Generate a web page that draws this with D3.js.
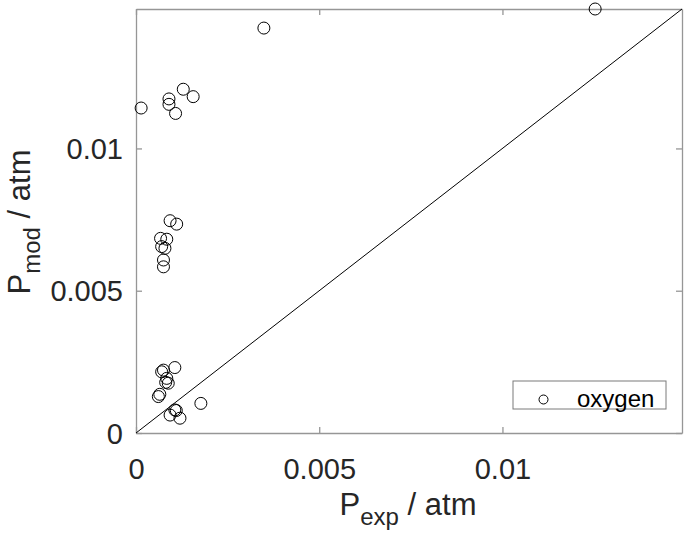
<!DOCTYPE html>
<html>
<head>
<meta charset="utf-8">
<script src="https://cdn.jsdelivr.net/npm/d3@7"></script>
<style>
  body { margin: 0; background: #fff; }
  text { font-family: "Liberation Sans", Arial, sans-serif; fill: #262626; }
</style>
</head>
<body>
<div id="chart"></div>
<script>
// measured vs modelled oxygen partial pressure (atm)
let pExp = [0.01253, 0.00349, 0.00014, 0.00090, 0.00090, 0.00108, 0.00129, 0.00156,
            0.00093, 0.00111, 0.00067, 0.00084, 0.00070, 0.00079, 0.00075, 0.00075,
            0.00106, 0.00075, 0.00070, 0.00084, 0.00088, 0.00081, 0.00065, 0.00061,
            0.00177, 0.00106, 0.00093, 0.00120, 0.00110];
let pMod = [0.01490, 0.01423, 0.01142, 0.01174, 0.01155, 0.01123, 0.01208, 0.01182,
            0.00746, 0.00734, 0.00684, 0.00681, 0.00655, 0.00649, 0.00608, 0.00584,
            0.00230, 0.00221, 0.00215, 0.00192, 0.00175, 0.00178, 0.00136, 0.00128,
            0.00104, 0.00081, 0.00063, 0.00052, 0.00079];
let tickVals = [0, 0.005, 0.01];
let tickLabels = ["0", "0.005", "0.01"];
let legendLabel = "oxygen";

let axMax = 0.0149;

let svg = d3.select("#chart")
    .append("svg")
    .attr("width", 686)
    .attr("height", 538);

let pLeft = 136, pRight = 682, pTop = 9, pBottom = 433;

let x = d3.scaleLinear().domain([0, axMax]).range([pLeft, pRight]);
let y = d3.scaleLinear().domain([0, axMax]).range([pBottom, pTop]);

let axisColor = "#969696";
let fmt = d => tickLabels[tickVals.indexOf(d)];

// bottom axis
let gx = svg.append("g")
    .attr("transform", "translate(0," + pBottom + ")")
    .call(d3.axisBottom(x).tickValues(tickVals).tickFormat(fmt).tickSizeInner(-6).tickSizeOuter(0));
gx.selectAll("text").style("font-size", "29px").attr("y", 46).attr("dy", 0);

// left axis
let gy = svg.append("g")
    .attr("transform", "translate(" + pLeft + ",0)")
    .call(d3.axisLeft(y).tickValues(tickVals).tickFormat(fmt).tickSizeInner(-6).tickSizeOuter(0).tickPadding(13));
gy.selectAll("text").style("font-size", "29px").attr("dy", "0.35em");

// top and right axes, no labels
svg.append("g")
    .attr("transform", "translate(0," + pTop + ")")
    .call(d3.axisTop(x).tickValues(tickVals).tickFormat("").tickSizeInner(-6).tickSizeOuter(0));
svg.append("g")
    .attr("transform", "translate(" + pRight + ",0)")
    .call(d3.axisRight(y).tickValues(tickVals).tickFormat("").tickSizeInner(-6).tickSizeOuter(0));

svg.selectAll(".domain").attr("stroke", axisColor).attr("stroke-width", 1.3);
svg.selectAll(".tick line").attr("stroke", axisColor).attr("stroke-width", 1.3);

// parity line
svg.append("line")
    .attr("x1", x(0)).attr("y1", y(0))
    .attr("x2", x(axMax)).attr("y2", y(axMax))
    .attr("stroke", "black")
    .attr("stroke-width", 1);

// points
svg.append("g")
    .selectAll("circle")
    .data(pExp.map((d, i) => [d, pMod[i]]))
    .join("circle")
    .attr("cx", d => x(d[0]))
    .attr("cy", d => y(d[1]))
    .attr("r", 6)
    .attr("fill", "none")
    .attr("stroke", "black")
    .attr("stroke-width", 1);

// axis labels
let xl = svg.append("text")
    .attr("x", 408)
    .attr("y", 515)
    .attr("text-anchor", "middle")
    .style("font-size", "31px");
xl.append("tspan").text("P");
xl.append("tspan").attr("dy", 10).style("font-size", "24px").text("exp");
xl.append("tspan").attr("dy", -10).text(" / atm");

let yl = svg.append("text")
    .attr("transform", "translate(30,222) rotate(-90)")
    .attr("text-anchor", "middle")
    .style("font-size", "31px");
yl.append("tspan").text("P");
yl.append("tspan").attr("dy", 10).style("font-size", "24px").text("mod");
yl.append("tspan").attr("dy", -10).text(" / atm");

// legend
let lg = svg.append("g");
lg.append("rect")
    .attr("x", 513).attr("y", 381)
    .attr("width", 153).attr("height", 28)
    .attr("fill", "white")
    .attr("stroke", "#7a7a7a")
    .attr("stroke-width", 1);
lg.append("circle")
    .attr("cx", 543.5).attr("cy", 399.5)
    .attr("r", 4.5)
    .attr("fill", "none")
    .attr("stroke", "black");
lg.append("text")
    .attr("x", 577).attr("y", 407)
    .style("font-size", "24px")
    .style("fill", "#000")
    .text(legendLabel);
</script>
</body>
</html>
